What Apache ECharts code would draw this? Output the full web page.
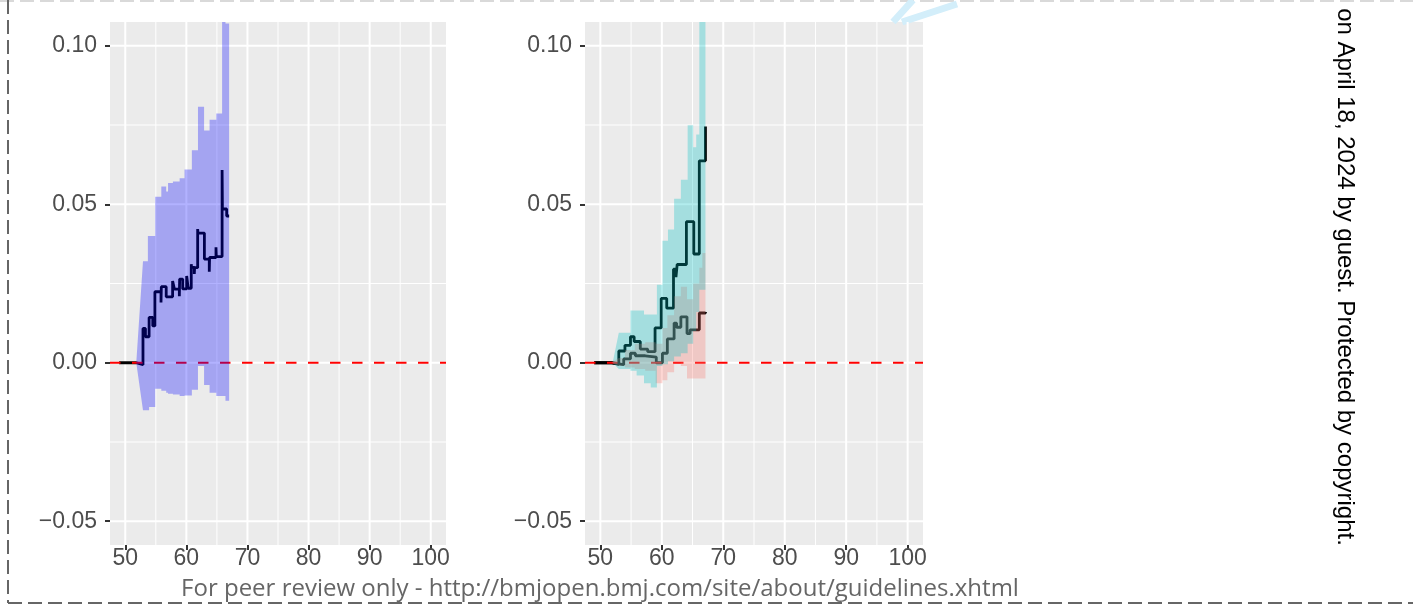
<!DOCTYPE html>
<html><head><meta charset="utf-8">
<script src="https://cdn.jsdelivr.net/npm/echarts@6/dist/echarts.min.js"></script>
<style>html,body{margin:0;padding:0;background:#fff}#c{width:1413px;height:609px}</style>
</head><body><div id="c"></div>
<script>
// ---- data ----
const xRange = [47.5, 102.5];
const yRange = [-0.0575, 0.1075];
const xTickValues = [50, 60, 70, 80, 90, 100];
const xMinorValues = [55, 65, 75, 85, 95];
const yTickValues = [-0.05, 0, 0.05, 0.1];
const yMinorValues = [-0.025, 0.025, 0.075];
const refLineY = 0;

// left panel: difference curve [age, value]
const leftDiff = [
  [49.0, 0], [51.8, -0.0006], [52.9, 0.0108], [53.3, 0.0082], [53.9, 0.0143],
  [54.5, 0.0116], [54.85, 0.0224], [55.85, 0.0190], [55.9, 0.0240], [56.7, 0.0208],
  [57.75, 0.0258], [58.05, 0.0232], [58.85, 0.0210], [58.9, 0.0264], [59.4, 0.0233],
  [60.05, 0.0274], [60.3, 0.0235], [60.8, 0.0311], [60.85, 0.0301], [61.3, 0.0280],
  [61.35, 0.0300], [61.85, 0.0422], [61.9, 0.0409], [62.95, 0.0327], [63.75, 0.0287],
  [63.8, 0.0332], [64.85, 0.0364], [64.9, 0.0335], [65.85, 0.0608], [65.9, 0.0485],
  [66.6, 0.0463], [67.0, 0.0463]
];
// left panel band [age, lower, upper]
const leftBand = [
  [51.8, 0, 0], [52.9, -0.0150, 0.0320], [53.7, -0.0150, 0.0400], [53.9, -0.0140, 0.0400],
  [54.9, -0.0082, 0.0524], [55.9, -0.0088, 0.0556], [56.7, -0.0095, 0.0540],
  [57.0, -0.0098, 0.0567], [57.8, -0.0100, 0.0572], [58.9, -0.0105, 0.0582],
  [59.7, -0.0103, 0.0610], [60.9, -0.0085, 0.0670], [61.9, -0.0010, 0.0808],
  [62.9, -0.0070, 0.0733], [63.8, -0.0095, 0.0767], [64.9, -0.0105, 0.0786],
  [65.85, -0.0105, 0.1085], [66.4, -0.0120, 0.1070], [67.0, -0.0137, 0.1060]
];
// right panel: two curves
const rightUpperLine = [
  [49.0, 0], [51.8, -0.0005], [53.0, 0.0037], [54.0, 0.0055], [54.9, 0.0082],
  [55.5, 0.0067], [56.5, 0.0043], [57.7, 0.0035], [58.9, 0.0110], [59.9, 0.0203],
  [60.8, 0.0172], [61.9, 0.0295], [62.3, 0.0270], [62.5, 0.0310], [64.0, 0.0445],
  [65.2, 0.0343], [66.1, 0.0637], [67.1, 0.0745]
];
const rightLowerLine = [
  [49.0, 0], [51.8, -0.0006], [53.8, 0.0012], [54.9, 0.0030], [55.7, 0.0022],
  [57.3, 0.0018], [59.1, 0.0000], [60.1, 0.0030], [60.9, 0.0075], [62.0, 0.0125],
  [62.4, 0.0112], [63.1, 0.0145], [64.1, 0.0092], [64.6, 0.0104], [66.1, 0.0157],
  [67.1, 0.0160]
];
const tealBand = [
  [52.0, 0, 0], [53.0, -0.0020, 0.0095], [54.9, -0.0025, 0.0165], [55.9, -0.0040, 0.0165],
  [57.1, -0.0065, 0.0152], [58.2, -0.0078, 0.0152], [59.2, -0.0010, 0.0246],
  [60.1, -0.0005, 0.0385], [61.0, 0.0005, 0.0420], [62.0, 0.0020, 0.0517],
  [63.1, 0.0030, 0.0577], [64.2, 0.0060, 0.0749], [65.1, 0.0100, 0.0680],
  [65.6, 0.0160, 0.0720], [66.1, 0.0230, 0.1100], [67.1, 0.0230, 0.1100]
];
const salmonBand = [
  [51.8, 0, 0], [53.0, -0.0010, 0.0015], [54.0, -0.0015, 0.0040], [55.6, -0.0020, 0.0060],
  [57.3, -0.0025, 0.0065], [59.0, -0.0065, 0.0060], [60.1, -0.0055, 0.0110],
  [60.9, -0.0030, 0.0150], [62.0, 0.0000, 0.0210], [63.1, -0.0010, 0.0240],
  [64.1, -0.0050, 0.0200], [65.1, -0.0050, 0.0250], [66.1, -0.0050, 0.0300],
  [66.6, -0.0050, 0.0346], [67.1, -0.0050, 0.0346]
];
const footerText = 'For peer review only - http://bmjopen.bmj.com/site/about/guidelines.xhtml';
const sideText = 'on April 18, 2024 by guest. Protected by copyright.';

// ---- chart ----
const chart = echarts.init(document.getElementById('c'), null, {renderer: 'canvas'});
const AX_FONT = 'Liberation Sans';
const panels = [{left: 110, width: 336}, {left: 585, width: 338}];

function fmtY(v) {
  const s = Math.abs(v).toFixed(2);
  return (v < -1e-9 ? '\u2212' : '') + s;
}

function gridSeries(i) {
  return {
    type: 'custom', xAxisIndex: i, yAxisIndex: i, z: 1, silent: true,
    data: [[xRange[0], yRange[0]]],
    renderItem: function (params, api) {
      const children = [];
      const vline = (x, w) => {
        const a = api.coord([x, yRange[0]]), b = api.coord([x, yRange[1]]);
        children.push({type: 'line', shape: {x1: a[0], y1: a[1], x2: b[0], y2: b[1]}, style: {stroke: '#FFFFFF', lineWidth: w}});
      };
      const hline = (y, w) => {
        const a = api.coord([xRange[0], y]), b = api.coord([xRange[1], y]);
        children.push({type: 'line', shape: {x1: a[0], y1: a[1], x2: b[0], y2: b[1]}, style: {stroke: '#FFFFFF', lineWidth: w}});
      };
      xMinorValues.forEach(v => vline(v, 1));
      yMinorValues.forEach(v => hline(v, 1));
      xTickValues.forEach(v => vline(v, 2));
      yTickValues.forEach(v => hline(v, 2));
      return {type: 'group', children: children};
    }
  };
}

function stepLine(i, data, z) {
  return {
    type: 'line', xAxisIndex: i, yAxisIndex: i, z: z, step: 'end', data: data,
    showSymbol: false, silent: true, clip: true,
    lineStyle: {color: '#000000', width: 2.8}
  };
}

function refLine(i) {
  return {
    type: 'custom', xAxisIndex: i, yAxisIndex: i, z: 3, silent: true,
    data: [[xRange[0], refLineY]],
    renderItem: function (params, api) {
      const a = api.coord([xRange[0], refLineY]), b = api.coord([xRange[1], refLineY]);
      return {type: 'line', shape: {x1: a[0], y1: a[1], x2: b[0], y2: b[1]},
        style: {stroke: '#FF0000', lineWidth: 2.2, lineDash: [10.5, 11.5]}};
    }
  };
}

function ribbon(i, rows, color, z) {
  return {
    type: 'custom', xAxisIndex: i, yAxisIndex: i, z: z, silent: true,
    data: rows.map(r => [r[0], r[1], r[2]]),
    encode: {x: 0, y: [1, 2]},
    renderItem: function (params, api) {
      if (params.dataIndex !== 0) return null;
      const cs = params.coordSys;
      const cy = y => Math.max(cs.y, Math.min(cs.y + cs.height, y));
      const pt = (x, v) => { const c = api.coord([x, v]); return [c[0], cy(c[1])]; };
      const up = [], lo = [];
      up.push(pt(rows[0][0], rows[0][2])); lo.push(pt(rows[0][0], rows[0][1]));
      for (let k = 1; k < rows.length; k++) {
        if (k > 1) { up.push(pt(rows[k][0], rows[k - 1][2])); lo.push(pt(rows[k][0], rows[k - 1][1])); }
        up.push(pt(rows[k][0], rows[k][2])); lo.push(pt(rows[k][0], rows[k][1]));
      }
      return {type: 'polygon', shape: {points: up.concat(lo.reverse())}, style: {fill: color}};
    }
  };
}

const grids = panels.map(p => ({left: p.left, width: p.width, top: 22, height: 523,
  show: true, backgroundColor: '#EBEBEB', borderWidth: 0}));
const xAxes = panels.map((p, i) => ({
  gridIndex: i, type: 'value', min: xRange[0], max: xRange[1],
  splitLine: {show: false}, axisLine: {show: false, onZero: false},
  axisTick: {show: true, customValues: xTickValues, length: 5, lineStyle: {color: '#333333', width: 2}},
  axisLabel: {customValues: xTickValues, color: '#4D4D4D', fontSize: 23, fontFamily: AX_FONT, margin: 2}
}));
const yAxes = panels.map((p, i) => ({
  gridIndex: i, type: 'value', min: yRange[0], max: yRange[1],
  splitLine: {show: false}, axisLine: {show: false, onZero: false},
  axisTick: {show: true, customValues: yTickValues, length: 5, lineStyle: {color: '#333333', width: 2}},
  axisLabel: {customValues: yTickValues, formatter: fmtY, color: '#4D4D4D', fontSize: 23, fontFamily: AX_FONT, margin: 13}
}));

const series = [
  gridSeries(0), gridSeries(1),
  stepLine(0, leftDiff, 2),
  refLine(0),
  ribbon(0, leftBand, 'rgba(0,0,255,0.3)', 5),
  stepLine(1, rightUpperLine, 2),
  stepLine(1, rightLowerLine, 2),
  refLine(1),
  ribbon(1, salmonBand, 'rgba(248,118,109,0.3)', 4),
  ribbon(1, tealBand, 'rgba(0,191,196,0.3)', 5)
];

const dashDark = {stroke: '#666666', lineWidth: 2, lineDash: [14, 6]};
chart.setOption({
  animation: false,
  backgroundColor: '#FFFFFF',
  grid: grids, xAxis: xAxes, yAxis: yAxes, series: series,
  graphic: [
    {type: 'line', z: 0, shape: {x1: 0, y1: 1, x2: 1413, y2: 1}, style: {stroke: '#D9D9D9', lineWidth: 2, lineDash: [14, 6]}},
    {type: 'line', z: 0, shape: {x1: 8, y1: 0, x2: 8, y2: 603}, style: dashDark},
    {type: 'line', z: 0, shape: {x1: 8, y1: 603, x2: 1413, y2: 603}, style: dashDark},
    {type: 'polyline', z: 0, shape: {points: [[893, 22], [913, 0]]}, style: {stroke: '#D3EEFA', lineWidth: 7, fill: null}},
    {type: 'polyline', z: 0, shape: {points: [[902, 22], [957, 4]]}, style: {stroke: '#D3EEFA', lineWidth: 7, fill: null}},
    {type: 'text', z: 10, x: 600, y: 589, style: {text: footerText, font: "24px 'Open Sans'", fill: '#666666', textAlign: 'center', textVerticalAlign: 'middle'}},
    {type: 'text', z: 10, x: 1345, y: 277, rotation: -Math.PI / 2,
      style: {text: sideText, font: "24px 'Liberation Sans'", fill: '#000000', textAlign: 'center', textVerticalAlign: 'middle'}}
  ]
});
</script>
</body></html>
